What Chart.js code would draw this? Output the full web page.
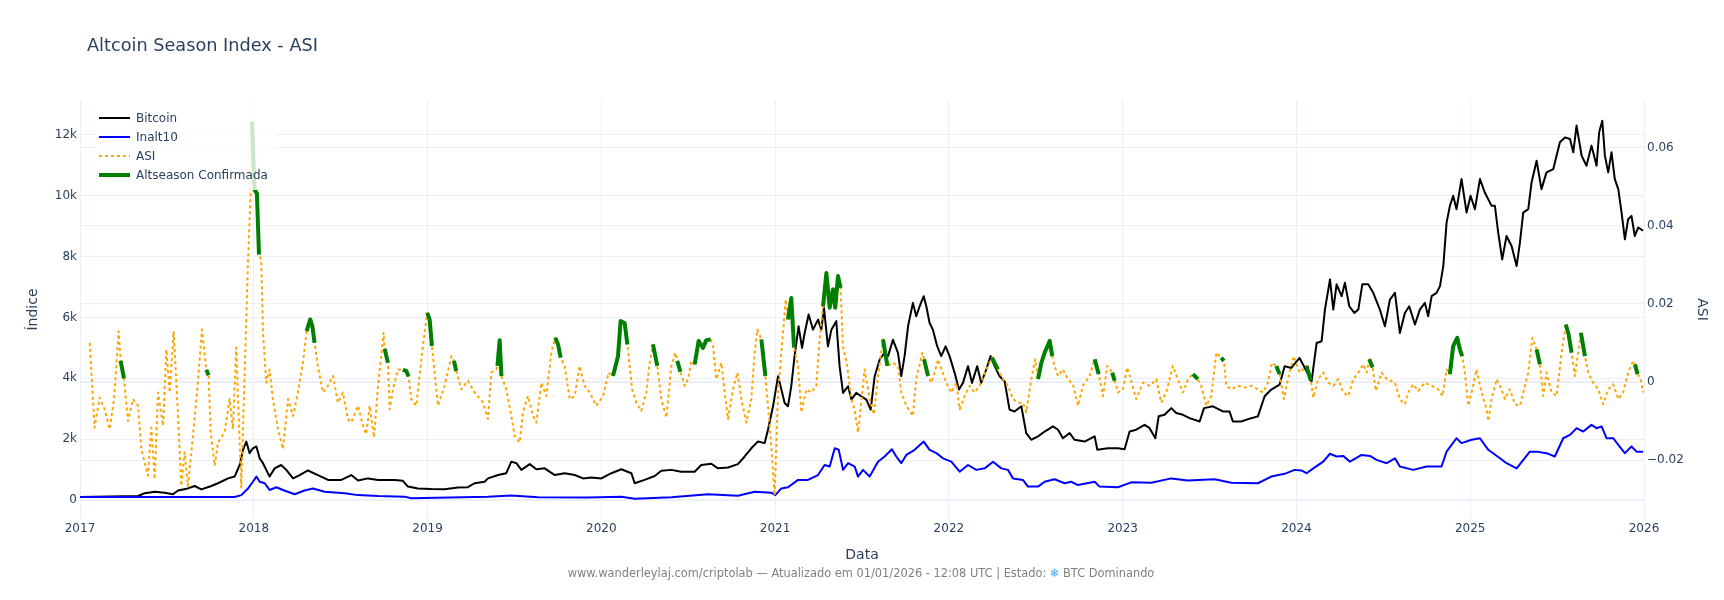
<!DOCTYPE html>
<html>
<head>
<meta charset="utf-8">
<script src="https://cdn.jsdelivr.net/npm/chart.js@4.4.1/dist/chart.umd.min.js"></script>
<style>
html,body{margin:0;padding:0;background:#fff;}
canvas{display:block;}
</style>
</head>
<body>
<canvas id="c" width="1724" height="600"></canvas>
<script>
// ---------- DATA ----------
const chartTitle = 'Altcoin Season Index - ASI';
const footerParts = ['www.wanderleylaj.com/criptolab — Atualizado em 01/01/2026 - 12:08 UTC | Estado: ', '❄', ' BTC Dominando'];

const xTickValues = [2017, 2018, 2019, 2020, 2021, 2022, 2023, 2024, 2025, 2026];
const xTickLabels = ['2017', '2018', '2019', '2020', '2021', '2022', '2023', '2024', '2025', '2026'];
const leftTickValues = [0, 2000, 4000, 6000, 8000, 10000, 12000];
const leftTickLabels = ['0', '2k', '4k', '6k', '8k', '10k', '12k'];
const rightTickValues = [-0.02, 0, 0.02, 0.04, 0.06];
const rightTickLabels = ['\u22120.02', '0', '0.02', '0.04', '0.06'];

// Bitcoin (índice), dates as decimal years
const btcDates = [
2017.000,2017.334,2017.372,2017.430,2017.487,2017.535,2017.564,2017.621,2017.660,2017.698,
2017.756,2017.794,2017.852,2017.890,2017.919,2017.938,2017.957,2017.976,2017.995,2018.015,
2018.034,2018.053,2018.072,2018.091,2018.120,2018.158,2018.187,2018.226,2018.264,2018.312,
2018.369,2018.427,2018.504,2018.561,2018.600,2018.657,2018.715,2018.811,2018.858,2018.887,
2018.945,2019.022,2019.098,2019.175,2019.232,2019.271,2019.328,2019.348,2019.406,2019.453,
2019.482,2019.511,2019.540,2019.588,2019.626,2019.674,2019.732,2019.789,2019.847,2019.895,
2019.943,2020.000,2020.058,2020.115,2020.173,2020.192,2020.249,2020.307,2020.345,2020.403,
2020.460,2020.537,2020.575,2020.633,2020.671,2020.729,2020.786,2020.825,2020.863,2020.901,
2020.940,2020.959,2020.988,2021.017,2021.036,2021.055,2021.074,2021.093,2021.112,2021.135,
2021.155,2021.170,2021.193,2021.218,2021.247,2021.266,2021.281,2021.304,2021.324,2021.352,
2021.371,2021.391,2021.420,2021.439,2021.467,2021.496,2021.525,2021.550,2021.573,2021.602,
2021.630,2021.650,2021.678,2021.707,2021.726,2021.745,2021.765,2021.793,2021.812,2021.832,
2021.855,2021.870,2021.889,2021.908,2021.933,2021.956,2021.981,2022.004,2022.033,2022.058,
2022.081,2022.110,2022.133,2022.163,2022.186,2022.215,2022.240,2022.263,2022.292,2022.321,
2022.349,2022.378,2022.417,2022.445,2022.474,2022.513,2022.551,2022.599,2022.628,2022.656,
2022.695,2022.723,2022.781,2022.839,2022.854,2022.915,2022.973,2023.011,2023.040,2023.078,
2023.126,2023.155,2023.188,2023.207,2023.241,2023.280,2023.308,2023.347,2023.385,2023.443,
2023.468,2023.519,2023.577,2023.615,2023.634,2023.682,2023.740,2023.778,2023.817,2023.855,
2023.903,2023.932,2023.970,2024.018,2024.058,2024.087,2024.116,2024.145,2024.164,2024.193,
2024.212,2024.231,2024.260,2024.279,2024.304,2024.333,2024.356,2024.379,2024.413,2024.442,
2024.480,2024.509,2024.538,2024.567,2024.595,2024.624,2024.649,2024.682,2024.710,2024.739,
2024.758,2024.778,2024.806,2024.826,2024.845,2024.864,2024.883,2024.902,2024.921,2024.950,
2024.979,2025.002,2025.027,2025.056,2025.084,2025.123,2025.142,2025.161,2025.184,2025.209,
2025.238,2025.267,2025.286,2025.305,2025.334,2025.353,2025.382,2025.410,2025.439,2025.478,
2025.516,2025.545,2025.574,2025.593,2025.612,2025.641,2025.669,2025.698,2025.727,2025.742,
2025.760,2025.775,2025.794,2025.813,2025.832,2025.852,2025.871,2025.890,2025.909,2025.928,
2025.947,2025.967,2025.995
];
const btcValues = [
100,130,220,270,240,190,310,380,460,350,
460,550,710,770,1150,1650,1920,1540,1700,1760,
1370,1210,990,770,1040,1150,990,710,820,970,
820,660,660,820,640,710,660,660,630,440,
380,360,350,410,420,550,600,710,820,880,
1260,1210,990,1180,1010,1040,820,880,820,710,
740,710,880,1010,880,550,660,790,960,990,
930,930,1150,1190,1040,1070,1180,1430,1700,1920,
1870,2310,3080,4070,3630,3190,3080,3740,4730,5710,
5000,5490,6100,5600,5930,5600,6320,5050,5600,5880,
4400,3520,3740,3300,3520,3410,3300,2970,4070,4620,
4840,4730,5270,4840,4070,4730,5710,6480,6040,6370,
6700,6370,5820,5600,5050,4730,5050,4730,4180,3630,
3850,4400,3850,4400,3850,4290,4730,4400,4070,3900,
2970,2910,3080,2200,1980,2090,2250,2420,2310,2030,
2200,1980,1920,2090,1650,1700,1700,1670,2250,2310,
2470,2360,2030,2750,2800,3020,2860,2800,2690,2580,
3020,3080,2910,2910,2580,2580,2690,2750,3410,3630,
3790,4400,4340,4670,4230,3900,5160,5220,6260,7250,
6260,7090,6700,7140,6370,6150,6260,7090,7090,6810,
6260,5710,6590,6810,5490,6150,6370,5770,6260,6480,
6040,6700,6810,7030,7690,9120,9670,10000,9560,10550,
9450,10000,9560,10550,10110,9670,9670,8790,7910,8680,
8350,7690,8460,9450,9560,10440,11150,10220,10770,10880,
11760,11920,11870,11430,12310,11320,10990,11650,10990,12090,
12470,11320,10770,11430,10550,10220,9450,8570,9230,9340,
8680,8960,8850
];

// Inalt10 (índice)
const inaltDates = [
2017.000,2017.890,2017.928,2017.967,2017.995,2018.015,2018.034,2018.063,2018.091,2018.130,
2018.168,2018.235,2018.292,2018.340,2018.408,2018.523,2018.600,2018.715,2018.868,2018.907,
2019.348,2019.482,2019.636,2019.923,2020.115,2020.192,2020.403,2020.614,2020.786,2020.882,
2020.978,2021.001,2021.036,2021.074,2021.132,2021.189,2021.247,2021.285,2021.314,2021.343,
2021.366,2021.391,2021.420,2021.458,2021.477,2021.506,2021.544,2021.592,2021.630,2021.672,
2021.697,2021.726,2021.755,2021.803,2021.855,2021.889,2021.928,2021.966,2022.014,2022.062,
2022.110,2022.158,2022.206,2022.254,2022.302,2022.340,2022.369,2022.426,2022.455,2022.513,
2022.551,2022.608,2022.666,2022.704,2022.743,2022.839,2022.867,2022.973,2023.049,2023.165,
2023.280,2023.375,2023.529,2023.625,2023.778,2023.855,2023.932,2023.989,2024.028,2024.058,
2024.097,2024.154,2024.193,2024.231,2024.269,2024.308,2024.375,2024.423,2024.461,2024.519,
2024.567,2024.595,2024.672,2024.749,2024.835,2024.864,2024.921,2024.950,2025.008,2025.056,
2025.104,2025.171,2025.209,2025.267,2025.343,2025.382,2025.439,2025.487,2025.535,2025.574,
2025.612,2025.650,2025.698,2025.727,2025.756,2025.784,2025.823,2025.852,2025.890,2025.928,
2025.957,2025.995
];
const inaltValues = [
100,100,160,380,600,770,600,550,330,420,
330,190,310,380,270,220,160,130,110,60,
110,150,90,80,110,40,90,190,140,270,
240,160,380,420,660,660,820,1150,1100,1700,
1650,990,1210,1100,770,990,770,1260,1430,1670,
1430,1210,1480,1650,1920,1650,1540,1370,1260,930,
1150,990,1040,1260,1040,990,710,660,440,440,
600,680,550,600,490,600,440,420,580,570,
710,640,680,570,550,770,860,990,970,880,
1040,1260,1520,1430,1450,1260,1480,1450,1320,1210,
1370,1100,990,1100,1100,1590,2030,1870,1980,2030,
1650,1370,1210,1040,1590,1590,1540,1430,2030,2140,
2360,2250,2470,2360,2420,2030,2030,1810,1540,1760,
1590,1590
];

// ASI (eixo direito)
const asiDates = [
2017.056,2017.084,2017.113,2017.142,2017.171,2017.196,2017.222,2017.234,2017.253,2017.276,
2017.305,2017.334,2017.353,2017.391,2017.410,2017.430,2017.449,2017.478,2017.497,2017.516,
2017.539,2017.564,2017.583,2017.602,2017.621,2017.650,2017.679,2017.702,2017.727,2017.740,
2017.752,2017.775,2017.794,2017.832,2017.861,2017.880,2017.899,2017.928,2017.947,2017.967,
2017.982,2017.990,2017.999,2018.005,2018.018,2018.030,2018.043,2018.053,2018.072,2018.091,
2018.110,2018.139,2018.168,2018.197,2018.226,2018.254,2018.283,2018.304,2018.325,2018.337,
2018.350,2018.369,2018.398,2018.427,2018.456,2018.484,2018.513,2018.542,2018.561,2018.600,
2018.628,2018.647,2018.667,2018.692,2018.715,2018.747,2018.753,2018.772,2018.782,2018.801,
2018.830,2018.858,2018.878,2018.891,2018.906,2018.935,2018.973,2018.998,2019.012,2019.025,
2019.041,2019.060,2019.098,2019.137,2019.152,2019.165,2019.194,2019.232,2019.271,2019.319,
2019.348,2019.367,2019.396,2019.402,2019.415,2019.425,2019.453,2019.482,2019.501,2019.530,
2019.549,2019.578,2019.607,2019.626,2019.655,2019.684,2019.712,2019.735,2019.751,2019.766,
2019.789,2019.818,2019.847,2019.875,2019.904,2019.933,2019.971,2020.010,2020.042,2020.067,
2020.096,2020.111,2020.134,2020.150,2020.177,2020.201,2020.230,2020.259,2020.278,2020.297,
2020.322,2020.345,2020.374,2020.403,2020.426,2020.437,2020.455,2020.480,2020.499,2020.518,
2020.537,2020.560,2020.585,2020.604,2020.629,2020.643,2020.662,2020.691,2020.710,2020.729,
2020.758,2020.783,2020.806,2020.834,2020.863,2020.882,2020.898,2020.921,2020.944,2020.959,
2020.978,2020.997,2021.017,2021.036,2021.061,2021.074,2021.093,2021.109,2021.132,2021.151,
2021.180,2021.208,2021.237,2021.256,2021.276,2021.295,2021.314,2021.333,2021.346,2021.362,
2021.377,2021.390,2021.415,2021.438,2021.457,2021.477,2021.500,2021.515,2021.544,2021.569,
2021.592,2021.621,2021.646,2021.678,2021.707,2021.726,2021.755,2021.793,2021.812,2021.847,
2021.857,2021.880,2021.899,2021.918,2021.937,2021.985,2022.014,2022.043,2022.062,2022.091,
2022.119,2022.148,2022.177,2022.215,2022.248,2022.282,2022.311,2022.340,2022.369,2022.397,
2022.426,2022.445,2022.474,2022.497,2022.513,2022.532,2022.551,2022.580,2022.595,2022.608,
2022.628,2022.656,2022.685,2022.714,2022.743,2022.771,2022.810,2022.839,2022.862,2022.887,
2022.911,2022.940,2022.954,2022.973,2023.001,2023.026,2023.044,2023.078,2023.117,2023.155,
2023.193,2023.222,2023.251,2023.289,2023.318,2023.347,2023.376,2023.404,2023.433,2023.452,
2023.481,2023.510,2023.539,2023.567,2023.583,2023.596,2023.625,2023.663,2023.702,2023.740,
2023.778,2023.807,2023.836,2023.859,2023.884,2023.903,2023.928,2023.951,2023.985,2024.018,
2024.058,2024.083,2024.097,2024.125,2024.154,2024.183,2024.212,2024.241,2024.269,2024.298,
2024.327,2024.356,2024.384,2024.404,2024.419,2024.438,2024.457,2024.490,2024.519,2024.567,
2024.595,2024.624,2024.643,2024.672,2024.701,2024.739,2024.778,2024.816,2024.841,2024.864,
2024.883,2024.902,2024.925,2024.941,2024.954,2024.969,2024.989,2025.017,2025.036,2025.065,
2025.094,2025.104,2025.123,2025.152,2025.171,2025.200,2025.228,2025.257,2025.286,2025.315,
2025.334,2025.357,2025.382,2025.401,2025.420,2025.439,2025.468,2025.497,2025.526,2025.550,
2025.566,2025.583,2025.602,2025.621,2025.637,2025.660,2025.679,2025.708,2025.737,2025.765,
2025.794,2025.823,2025.852,2025.880,2025.909,2025.938,2025.948,2025.963,2025.980,2025.995
];
const asiValues = [
0.0100,-0.0117,-0.0040,-0.0070,-0.0121,-0.0044,0.0130,0.0054,0.0009,-0.0100,
-0.0044,-0.0061,-0.0172,-0.0240,-0.0117,-0.0249,-0.0027,-0.0112,0.0083,-0.0027,
0.0130,-0.0087,-0.0266,-0.0180,-0.0266,-0.0138,0.0003,0.0134,0.0031,0.0017,
-0.0129,-0.0214,-0.0155,-0.0129,-0.0044,-0.0121,0.0088,-0.0270,0.0015,0.0313,
0.0483,0.0666,0.0552,0.0492,0.0483,0.0326,0.0313,0.0126,-0.0002,0.0032,
-0.0044,-0.0121,-0.0172,-0.0044,-0.0087,-0.0027,0.0049,0.0130,0.0160,0.0143,
0.0100,0.0041,-0.0027,-0.0010,0.0015,-0.0053,-0.0027,-0.0095,-0.0104,-0.0061,
-0.0112,-0.0134,-0.0061,-0.0142,-0.0010,0.0126,0.0085,0.0049,-0.0070,-0.0019,
0.0032,0.0031,0.0028,0.0014,-0.0044,-0.0061,0.0092,0.0177,0.0160,0.0092,
0.0024,-0.0061,-0.0010,0.0066,0.0054,0.0028,-0.0019,0.0003,-0.0027,-0.0053,
-0.0095,0.0024,0.0032,0.0041,0.0107,0.0015,-0.0019,-0.0087,-0.0138,-0.0155,
-0.0078,-0.0036,-0.0087,-0.0104,-0.0002,-0.0036,0.0075,0.0113,0.0096,0.0062,
0.0041,-0.0044,-0.0036,0.0041,-0.0010,-0.0027,-0.0061,-0.0036,0.0024,0.0015,
0.0066,0.0156,0.0151,0.0096,-0.0019,-0.0053,-0.0074,-0.0027,0.0049,0.0096,
0.0041,-0.0044,-0.0091,0.0041,0.0075,0.0054,0.0026,-0.0010,0.0007,0.0054,
0.0045,0.0105,0.0087,0.0107,0.0109,0.0092,0.0007,0.0049,-0.0027,-0.0095,
-0.0019,0.0024,-0.0044,-0.0104,-0.0044,0.0075,0.0134,0.0109,0.0015,-0.0061,
-0.0163,-0.0291,-0.0027,0.0075,0.0211,0.0160,0.0215,0.0088,0.0041,-0.0078,
-0.0019,-0.0027,-0.0010,0.0109,0.0194,0.0279,0.0190,0.0237,0.0190,0.0271,
0.0241,0.0092,0.0041,-0.0044,-0.0070,-0.0129,-0.0036,0.0032,-0.0044,-0.0083,
0.0015,0.0109,0.0041,0.0049,0.0041,-0.0027,-0.0061,-0.0087,0.0007,0.0075,
0.0058,0.0015,-0.0002,0.0024,0.0058,-0.0002,-0.0027,-0.0002,-0.0070,-0.0036,
-0.0010,-0.0027,-0.0010,0.0032,0.0062,0.0032,0.0007,-0.0010,-0.0044,-0.0053,
-0.0053,-0.0078,0.0007,0.0058,0.0007,0.0049,0.0075,0.0105,0.0066,0.0041,
0.0015,0.0032,0.0007,-0.0006,-0.0061,-0.0010,0.0015,0.0058,0.0020,-0.0036,
0.0041,0.0024,0.0003,-0.0027,-0.0019,0.0037,0.0011,-0.0044,-0.0002,-0.0010,
0.0007,-0.0053,-0.0027,0.0041,0.0007,-0.0027,0.0007,0.0020,0.0007,-0.0010,
-0.0061,-0.0036,0.0075,0.0062,0.0054,-0.0010,-0.0019,-0.0010,-0.0014,-0.0010,
-0.0019,-0.0027,-0.0002,0.0049,0.0041,0.0020,-0.0044,0.0007,0.0066,0.0024,
0.0041,0.0003,-0.0040,0.0007,0.0024,-0.0002,-0.0010,0.0007,-0.0027,-0.0036,
0.0007,0.0024,0.0045,0.0024,0.0058,0.0037,-0.0023,0.0024,0.0007,-0.0002,
-0.0044,-0.0057,-0.0027,-0.0006,-0.0023,-0.0002,-0.0010,-0.0019,-0.0036,0.0032,
0.0020,0.0092,0.0113,0.0083,0.0066,0.0024,-0.0061,-0.0010,0.0032,-0.0027,
-0.0070,-0.0100,-0.0044,0.0007,-0.0010,-0.0044,-0.0019,-0.0057,-0.0061,-0.0010,
0.0024,0.0113,0.0083,0.0045,-0.0036,0.0024,-0.0027,-0.0036,0.0075,0.0147,
0.0122,0.0075,0.0015,0.0075,0.0126,0.0066,0.0024,-0.0002,-0.0019,-0.0057,
-0.0019,-0.0006,-0.0044,-0.0027,0.0024,0.0054,0.0045,0.0020,0.0007,-0.0027
];

// Periods of "Altseason Confirmada" (start, end) in decimal years
const altseasonPeriods = [
[2017.234,2017.253],[2017.727,2017.740],[2017.990,2018.030],[2018.304,2018.350],[2018.753,2018.772],
[2018.858,2018.891],[2018.998,2019.025],[2019.152,2019.165],[2019.402,2019.425],[2019.735,2019.766],
[2020.067,2020.150],[2020.297,2020.322],[2020.437,2020.455],[2020.537,2020.629],[2020.921,2020.944],
[2021.074,2021.109],[2021.276,2021.377],[2021.621,2021.646],[2021.857,2021.880],[2022.248,2022.282],
[2022.513,2022.595],[2022.839,2022.862],[2022.940,2022.954],[2023.404,2023.433],[2023.567,2023.583],
[2023.884,2023.903],[2024.058,2024.083],[2024.419,2024.438],[2024.883,2024.954],[2025.382,2025.401],
[2025.550,2025.583],[2025.637,2025.660],[2025.948,2025.963]
];

// ---------- BUILD ----------
const toPts = (xs, ys) => xs.map((x, i) => ({x: x, y: ys[i]}));
const inAlt = x => altseasonPeriods.some(p => x >= p[0] - 1e-6 && x <= p[1] + 1e-6);
const greenPts = asiDates.map((x, i) => ({x: x, y: inAlt(x) ? asiValues[i] : null}));

const FONT = "'DejaVu Sans', Verdana, sans-serif";
const TXT = '#2a3f5f';
const GRID = '#EBF0F8';
Chart.defaults.font.family = FONT;
Chart.defaults.color = TXT;

const overlay = {
  id: 'overlay',
  afterDraw(chart) {
    const ctx = chart.ctx;
    ctx.save();
    // title
    ctx.font = '17.7px ' + FONT;
    ctx.fillStyle = TXT;
    ctx.textAlign = 'left';
    ctx.textBaseline = 'alphabetic';
    ctx.fillText(chartTitle, 87, 50.5);

    // legend (semi-transparent, inside plot)
    ctx.fillStyle = 'rgba(255,255,255,0.8)';
    ctx.fillRect(96, 103, 180, 87);
    const rows = [118, 137, 156, 175];
    const dsList = chart.data.datasets;
    [0, 1, 2, 3].forEach((di, k) => {
      const ds = dsList[di];
      const y = rows[k];
      ctx.beginPath();
      ctx.setLineDash(ds.borderDash || []);
      ctx.lineWidth = ds.borderWidth;
      ctx.strokeStyle = ds.borderColor;
      ctx.moveTo(99, y);
      ctx.lineTo(130, y);
      ctx.stroke();
      ctx.setLineDash([]);
      ctx.font = '12px ' + FONT;
      ctx.fillStyle = TXT;
      ctx.textBaseline = 'middle';
      ctx.fillText(ds.label, 136, y + 0.5);
    });

    // footer
    ctx.font = '11.4px ' + FONT;
    ctx.textBaseline = 'middle';
    const w0 = ctx.measureText(footerParts[0]).width;
    const w1 = ctx.measureText(footerParts[1]).width;
    const w2 = ctx.measureText(footerParts[2]).width;
    const fx = 861 - (w0 + w1 + w2) / 2;
    const fy = 574.5;
    ctx.fillStyle = '#808080';
    ctx.fillText(footerParts[0], fx, fy);
    ctx.fillStyle = '#42a5f5';
    ctx.fillText(footerParts[1], fx + w0, fy);
    ctx.fillStyle = '#808080';
    ctx.fillText(footerParts[2], fx + w0 + w1, fy);
    ctx.restore();
  }
};

const gridWidth = c => (c.tick && Math.abs(c.tick.value) < 1e-12 ? 2 : 1);

new Chart(document.getElementById('c'), {
  type: 'line',
  data: {
    datasets: [
      {label: 'Bitcoin', data: toPts(btcDates, btcValues), yAxisID: 'yL',
       borderColor: '#000000', borderWidth: 2, order: 4},
      {label: 'Inalt10', data: toPts(inaltDates, inaltValues), yAxisID: 'yL',
       borderColor: '#0000ff', borderWidth: 2, order: 3},
      {label: 'ASI', data: toPts(asiDates, asiValues), yAxisID: 'yR',
       borderColor: '#FFA500', borderWidth: 2, borderDash: [3, 3], order: 2},
      {label: 'Altseason Confirmada', data: greenPts, yAxisID: 'yR',
       borderColor: '#008000', borderWidth: 4, spanGaps: false, order: 1}
    ]
  },
  options: {
    responsive: false,
    animation: false,
    devicePixelRatio: 1,
    layout: {padding: {top: 100, left: 0, right: 0, bottom: 0}},
    elements: {point: {radius: 0, hoverRadius: 0}, line: {tension: 0, fill: false, borderJoinStyle: 'round'}},
    plugins: {legend: {display: false}, title: {display: false}, tooltip: {enabled: false}},
    scales: {
      x: {
        type: 'linear', position: 'bottom', min: 2017, max: 2026,
        grid: {color: GRID, lineWidth: 1, drawTicks: false},
        border: {display: false},
        afterBuildTicks: s => { s.ticks = xTickValues.map(v => ({value: v})); },
        afterFit: s => { s.height = 81; },
        ticks: {font: {size: 12}, color: TXT, padding: 3, maxRotation: 0, autoSkip: false,
                callback: (v, i) => xTickLabels[i]},
        title: {display: true, text: 'Data', font: {size: 14}, color: TXT, padding: {top: 0, bottom: 36.6}}
      },
      yL: {
        type: 'linear', position: 'left', min: -625, max: 13150,
        grid: {color: GRID, lineWidth: gridWidth, drawTicks: false},
        border: {display: false},
        afterBuildTicks: s => { s.ticks = leftTickValues.map(v => ({value: v})); },
        afterFit: s => { s.width = 80; },
        ticks: {font: {size: 12}, color: TXT, padding: 3, autoSkip: false,
                callback: (v, i) => leftTickLabels[i]},
        title: {display: true, text: 'Índice', font: {size: 14}, color: TXT, padding: {top: 25, bottom: 0}}
      },
      yR: {
        type: 'linear', position: 'right', min: -0.0351, max: 0.0722,
        grid: {color: GRID, lineWidth: gridWidth, drawTicks: false},
        border: {display: false},
        afterBuildTicks: s => { s.ticks = rightTickValues.map(v => ({value: v})); },
        afterFit: s => { s.width = 80; },
        ticks: {font: {size: 12}, color: TXT, padding: 3, autoSkip: false,
                callback: (v, i) => rightTickLabels[i]},
        title: {display: true, text: 'ASI', font: {size: 14}, color: TXT, padding: {top: 13.6, bottom: 0}}
      }
    }
  },
  plugins: [overlay]
});
</script>
</body>
</html>
